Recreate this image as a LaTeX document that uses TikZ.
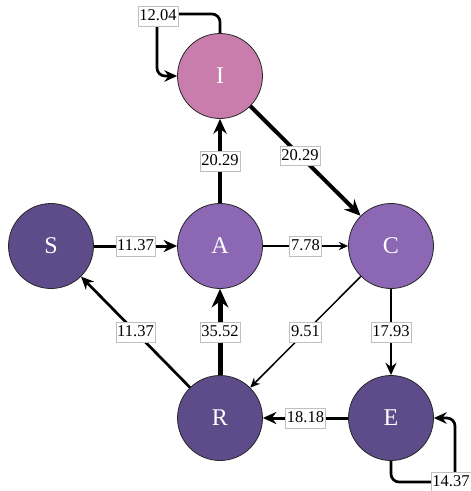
\documentclass[tikz,border=0pt]{standalone}
\usepackage{fontspec}
\setmainfont{Liberation Serif}
\usetikzlibrary{arrows.meta,shadows}
\definecolor{pinkI}{RGB}{201,125,172}
\definecolor{deepP}{RGB}{94,76,138}
\definecolor{midP}{RGB}{139,103,180}

\begin{document}
\begin{tikzpicture}[x=1pt,y=-1pt,
  state/.style={circle, draw=black!85, line width=0.8pt, minimum size=85pt,
    inner sep=0pt, text=white, font=\fontsize{24}{24}\selectfont},
  lbl/.style={fill=white, draw=black!25, line width=0.4pt, inner xsep=1.5pt,
    inner ysep=2.5pt, text height=12pt, text depth=2.5pt,
    font=\fontsize{16.5}{16.5}\selectfont,
    drop shadow={opacity=0.25, shadow xshift=0.8pt, shadow yshift=-0.8pt}},
  flow/.style={line width=#1, -{Stealth[length=6pt 2.5, width'=0pt 0.9]}},
  loopflow/.style={flow=#1, rounded corners=8pt},
]
\useasboundingbox (0,0) rectangle (471,491);

% states
\node[state, fill=pinkI] (I) at (220,76)  {I};
\node[state, fill=deepP] (S) at (51,246)  {S};
\node[state, fill=midP]  (A) at (220,246) {A};
\node[state, fill=midP]  (C) at (391,246) {C};
\node[state, fill=deepP] (R) at (220,418) {R};
\node[state, fill=deepP] (E) at (391,418) {E};

% transitions
\draw[flow=3pt]   (S) -- node[lbl] {11.37} (A);
\draw[flow=1.3pt] (A) -- node[lbl] {7.78}  (C);
\draw[flow=3.5pt] (A) -- node[lbl] {20.29} (I);
\draw[flow=4pt]   (I) -- node[lbl, pos=0.45] {20.29} (C);
\draw[flow=5pt]   (R) -- node[lbl] {35.52} (A);
\draw[flow=2.7pt] (R) -- node[lbl] {11.37} (S);
\draw[flow=1.5pt] (C) -- node[lbl] {9.51}  (R);
\draw[flow=2.5pt] (C) -- node[lbl] {17.93} (E);
\draw[flow=3pt]   (E) -- node[lbl] {18.18} (R);

% self loops
\coordinate (loopI) at (157,14);
\draw[loopflow=2.7pt] (I.north) |- (loopI) |- (I.west);
\node[lbl] at (158,16) {12.04};

\coordinate (loopE) at (455,482);
\draw[loopflow=2.7pt] (E.south) |- (loopE) |- (E.east);
\node[lbl] at (451,482) {14.37};
\end{tikzpicture}
\end{document}
